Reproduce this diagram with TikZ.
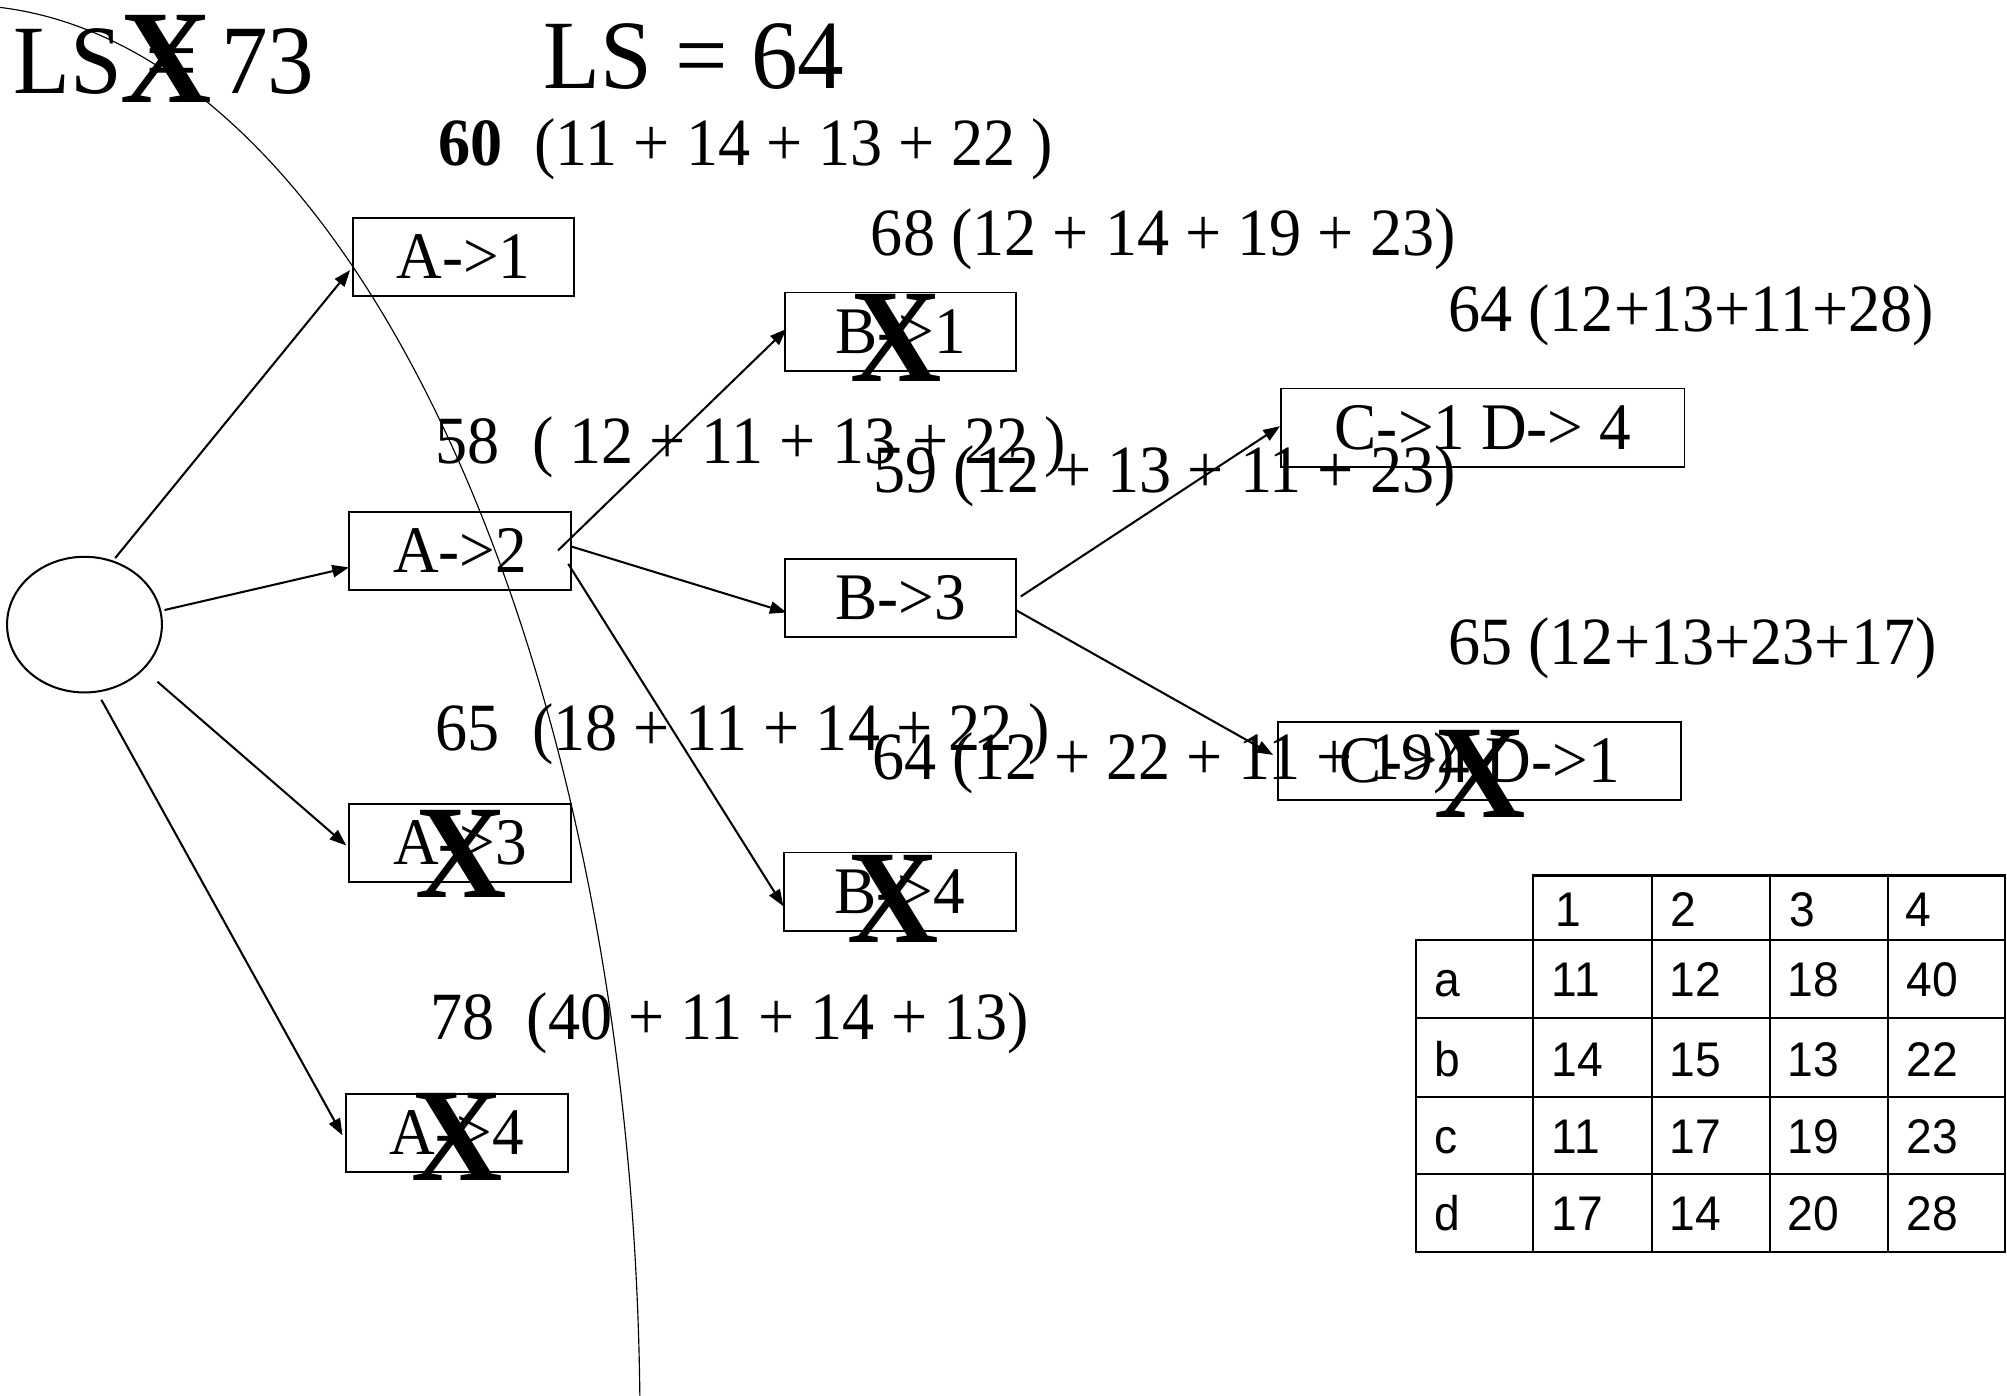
\documentclass[tikz,border=0pt]{standalone}
\usepackage{fontspec}
\setmainfont{Liberation Serif}[FakeStretch=0.95]
\newfontfamily\tabfont{Liberation Sans}[FakeStretch=0.95]
\usetikzlibrary{arrows.meta,shapes.geometric}
\begin{document}
\begin{tikzpicture}[x=0.5pt,y=-0.5pt,
  lbl/.style={font=\fontsize{26.4}{30}\selectfont, inner sep=0pt, anchor=base west},
  ttl/.style={font=\fontsize{38.3}{42}\selectfont, inner sep=0pt, anchor=base west},
  nbox/.style={draw, line width=0.75pt, inner sep=0pt, minimum height=30.5pt, font=\fontsize{26}{30}\selectfont, text height=17.2pt, text depth=0pt},
  abox/.style={nbox, minimum width=86.5pt},
  bbox/.style={nbox, minimum width=90.5pt},
  cbox/.style={nbox, minimum width=157.5pt},
  xmark/.style={font=\bfseries\fontsize{52}{52}\selectfont, inner sep=0pt, text height=34.4pt, text depth=0pt},
  conn/.style={line width=0.8pt, -{Triangle[length=6.5pt,width=4.8pt]}},
  tabtxt/.style={font=\tabfont\fontsize{19}{22}\selectfont, inner sep=0pt, anchor=base west},
  tabline/.style={line width=0.8pt, line cap=rect}
]
\useasboundingbox (0,0) rectangle (1568,1090);

% big arc
\begin{scope}
\clip (0,0) rectangle (1568,1090);
\draw[line width=0.45pt] (-31.25,1117.2) ellipse [x radius=531.3, y radius=1113.3];
\end{scope}

% titles
\node[ttl] (ls1) at (10,73) {LS = 73};
\node[ttl] (ls2) at (424,69) {LS = 64};

% labels
\node[lbl] (l60) at (342,129) {\textbf{60}\ \ (11 + 14 + 13 + 22 )};
\node[lbl] (l68) at (680,200) {68 (12 + 14 + 19 + 23)};
\node[lbl] (l64a) at (1131,259) {64 (12+13+11+28)};
\node[lbl] (l58) at (340,362) {58\ \ ( 12 + 11 + 13 + 22 )};
\node[lbl] (l59) at (682,385) {59 (12 + 13 + 11 + 23)};
\node[lbl] (l65a) at (1131,519) {65 (12+13+23+17)};
\node[lbl] (l65b) at (340,586) {65\ \ (18 + 11 + 14 + 22 )};
\node[lbl] (l64b) at (681,609) {64 (12 + 22 + 11 + 19)};
\node[lbl] (l78) at (336,812) {78\ \ (40 + 11 + 14 + 13)};

% nodes
\node[ellipse, draw, line width=0.8pt, minimum width=60.5pt, minimum height=53pt, inner sep=0pt] (e) at (66,488) {};
\node[abox] (a1) at (362,200.5) {A->1};
\node[abox] (a2) at (359.5,430.3) {A->2};
\node[abox] (a3) at (359.5,658.4) {A->3};
\node[abox] (a4) at (357,885) {A->4};
\node[bbox] (b1) at (703.5,259) {B->1};
\node[bbox] (b3) at (703.5,467) {B->3};
\node[bbox] (b4) at (703,696.5) {B->4};
\node[cbox] (c1) at (1158.5,334) {C->1 D-> 4};
\node[cbox] (c4) at (1156,594.5) {C->4 D->1};

% connectors
\draw[conn] ([shift={(24,-52)}]e.center) -- ([shift={(-88.5,10.5)}]a1.center);
\draw[conn] ([shift={(62.5,-11.4)}]e.center) -- ([shift={(-86.9,13)}]a2.center);
\draw[conn] ([shift={(57,44.6)}]e.center) -- ([shift={(-89,2.1)}]a3.center);
\draw[conn] ([shift={(13.2,58.7)}]e.center) -- ([shift={(-89.4,2)}]a4.center);
\draw[conn] ([shift={(76.5,-0.3)}]a2.center) -- ([shift={(-89,-2)}]b1.center);
\draw[conn] ([shift={(87,-3.3)}]a2.center) -- ([shift={(-89,11.5)}]b3.center);
\draw[conn] ([shift={(84.4,10.2)}]a2.center) -- ([shift={(-91,11.5)}]b4.center);
\draw[conn] ([shift={(94,-1)}]b3.center) -- ([shift={(-158.5,-1)}]c1.center);
\draw[conn] ([shift={(90.1,9.6)}]b3.center) -- ([shift={(-161.4,-4.7)}]c4.center);

% crosses
\node[xmark] (x0) at (130,46) {X};
\node[xmark] (xb1) at (700.5,263.5) {X};
\node[xmark] (xa3) at (360,667) {X};
\node[xmark] (xa4) at (357,888) {X};
\node[xmark] (xb4) at (698,702) {X};
\node[xmark] (xc4) at (1156,604) {X};

% table
\draw[tabline] (1198,684) -- (1566.6,684);
\foreach \yy in {734.5,795.5,856.8,917.2,978} \draw[tabline] (1106,\yy) -- (1566.6,\yy);
\draw[tabline] (1106,734.5) -- (1106,978);
\foreach \xx in {1198,1290.3,1382.6,1474.8,1566.6} \draw[tabline] (\xx,684) -- (\xx,978);
\node[tabtxt] (h1) at (1215,724) {1};
\node[tabtxt] (h2) at (1305,724) {2};
\node[tabtxt] (h3) at (1398,724) {3};
\node[tabtxt] (h4) at (1488,724) {4};
\foreach \lab/\yy/\va/\vb/\vc/\vd in {a/778.5/11/12/18/40, b/841/14/15/13/22, c/901/11/17/19/23, d/961/17/14/20/28} {
  \node[tabtxt] (r\lab) at (1120,\yy) {\lab};
  \node[tabtxt] (t\lab1) at (1212,\yy) {\va};
  \node[tabtxt] (t\lab2) at (1304,\yy) {\vb};
  \node[tabtxt] (t\lab3) at (1396,\yy) {\vc};
  \node[tabtxt] (t\lab4) at (1489,\yy) {\vd};
}
\end{tikzpicture}
\end{document}
